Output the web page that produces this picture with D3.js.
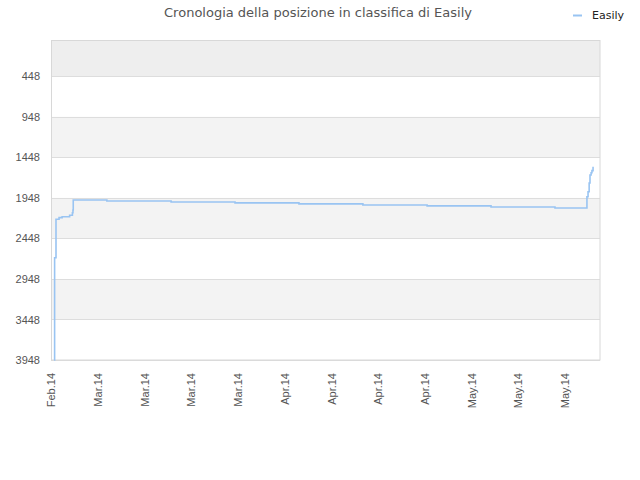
<!DOCTYPE html>
<html><head><meta charset="utf-8">
<script src="https://cdn.jsdelivr.net/npm/d3@7"></script>
<style>body{margin:0;background:#fff;}svg{display:block;font-family:"DejaVu Sans",sans-serif;}</style>
</head><body>
<svg id="c" width="640" height="480"></svg>
<script>
const seriesName = "Easily";
const titleText = "Cronologia della posizione in classifica di Easily";
const dates = ["2014-02-27T11:00","2014-02-27T13:00","2014-02-27T18:00","2014-02-28T05:00","2014-02-28T16:00","2014-03-01T19:00","2014-03-02T05:00","2014-03-02T07:00","2014-03-02T08:00","2014-03-07T09:00","2014-03-17T00:00","2014-03-26T14:00","2014-04-05T04:00","2014-04-14T18:00","2014-04-24T09:00","2014-05-03T23:00","2014-05-13T13:00","2014-05-18T08:00","2014-05-18T12:00","2014-05-18T16:00","2014-05-18T19:00","2014-05-18T23:00","2014-05-19T02:00","2014-05-19T06:00"];
const ranks = [3948,2686,2212,2192,2180,2163,2131,2097,1974,1986,1998,2010,2022,2035,2047,2060,2073,1933,1872,1764,1665,1637,1612,1563];
const yTicks = [448,948,1448,1948,2448,2948,3448,3948];
const xTickDates = ["2014-02-27","2014-03-06","2014-03-13","2014-03-20","2014-03-27","2014-04-03","2014-04-10","2014-04-17","2014-04-24","2014-05-01","2014-05-08","2014-05-15"];
const xDomain = ["2014-02-27T00:00","2014-05-20T07:00"];
const yDomain = [0, 3948];

const parse = d3.timeParse("%Y-%m-%dT%H:%M");
const parseD = d3.timeParse("%Y-%m-%d");
const data = dates.map((d,i)=>({t:parse(d), v:ranks[i]}));
const svg = d3.select("#c");
const L=51, R=600, T=40, B=360;
const x = d3.scaleTime().domain(xDomain.map(parse)).range([L,R]);
const y = d3.scaleLinear().domain(yDomain).range([T,B]);

// bands
const bandEdges = [yDomain[0]].concat(yTicks);
for (let i=0;i<bandEdges.length-1;i++){
  svg.append("rect").attr("x",L).attr("width",R-L)
    .attr("y",y(bandEdges[i])).attr("height",y(bandEdges[i+1])-y(bandEdges[i]))
    .attr("fill", i===0 ? "#eeeeee" : (i%2===0 ? "#f3f3f3" : "#ffffff"));
}
// grid lines
svg.append("g").selectAll("line").data(yTicks).join("line")
  .attr("x1",L).attr("x2",R).attr("y1",d=>Math.round(y(d))+0.5).attr("y2",d=>Math.round(y(d))+0.5)
  .attr("stroke","#dddddd").attr("stroke-width",1);
// border
svg.append("rect").attr("x",L+0.5).attr("y",T+0.5).attr("width",R-L-0.5).attr("height",B-T-0.5)
  .attr("fill","none").attr("stroke","#d8d8d8").attr("stroke-width",1);

// y axis
const yAxis = d3.axisLeft(y).tickValues(yTicks).tickSize(0).tickPadding(11).tickFormat(d3.format("d"));
const gy = svg.append("g").attr("transform",`translate(${L},0)`).call(yAxis);
gy.select(".domain").remove();
gy.selectAll("text").attr("fill","#555").style("font-size","11px");

// x axis
const xAxis = d3.axisBottom(x).tickValues(xTickDates.map(parseD)).tickSize(0).tickPadding(0)
  .tickFormat(d3.timeFormat("%b.%y"));
const gx = svg.append("g").attr("transform",`translate(0,${B})`).call(xAxis);
gx.select(".domain").remove();
gx.selectAll("text").attr("fill","#555").style("font-size","11px")
  .attr("text-anchor","end").attr("transform","rotate(-90)")
  .attr("x",-13).attr("y",0).attr("dy","0.35em");

// line
const line = d3.line().x(d=>x(d.t)).y(d=>y(d.v)).curve(d3.curveStepAfter);
svg.append("path").datum(data).attr("d",line).attr("fill","none")
  .attr("stroke","#99c4f2").attr("stroke-width",1.6);

// title
svg.append("text").attr("x",318).attr("y",17).attr("text-anchor","middle")
  .attr("fill","#555").style("font-size","13px").text(titleText);
// legend
svg.append("line").attr("x1",573).attr("x2",582).attr("y1",15.5).attr("y2",15.5)
  .attr("stroke","#99c4f2").attr("stroke-width",2);
svg.append("text").attr("x",592).attr("y",19).attr("fill","#222").style("font-size","11px").text(seriesName);
</script>
</body></html>
